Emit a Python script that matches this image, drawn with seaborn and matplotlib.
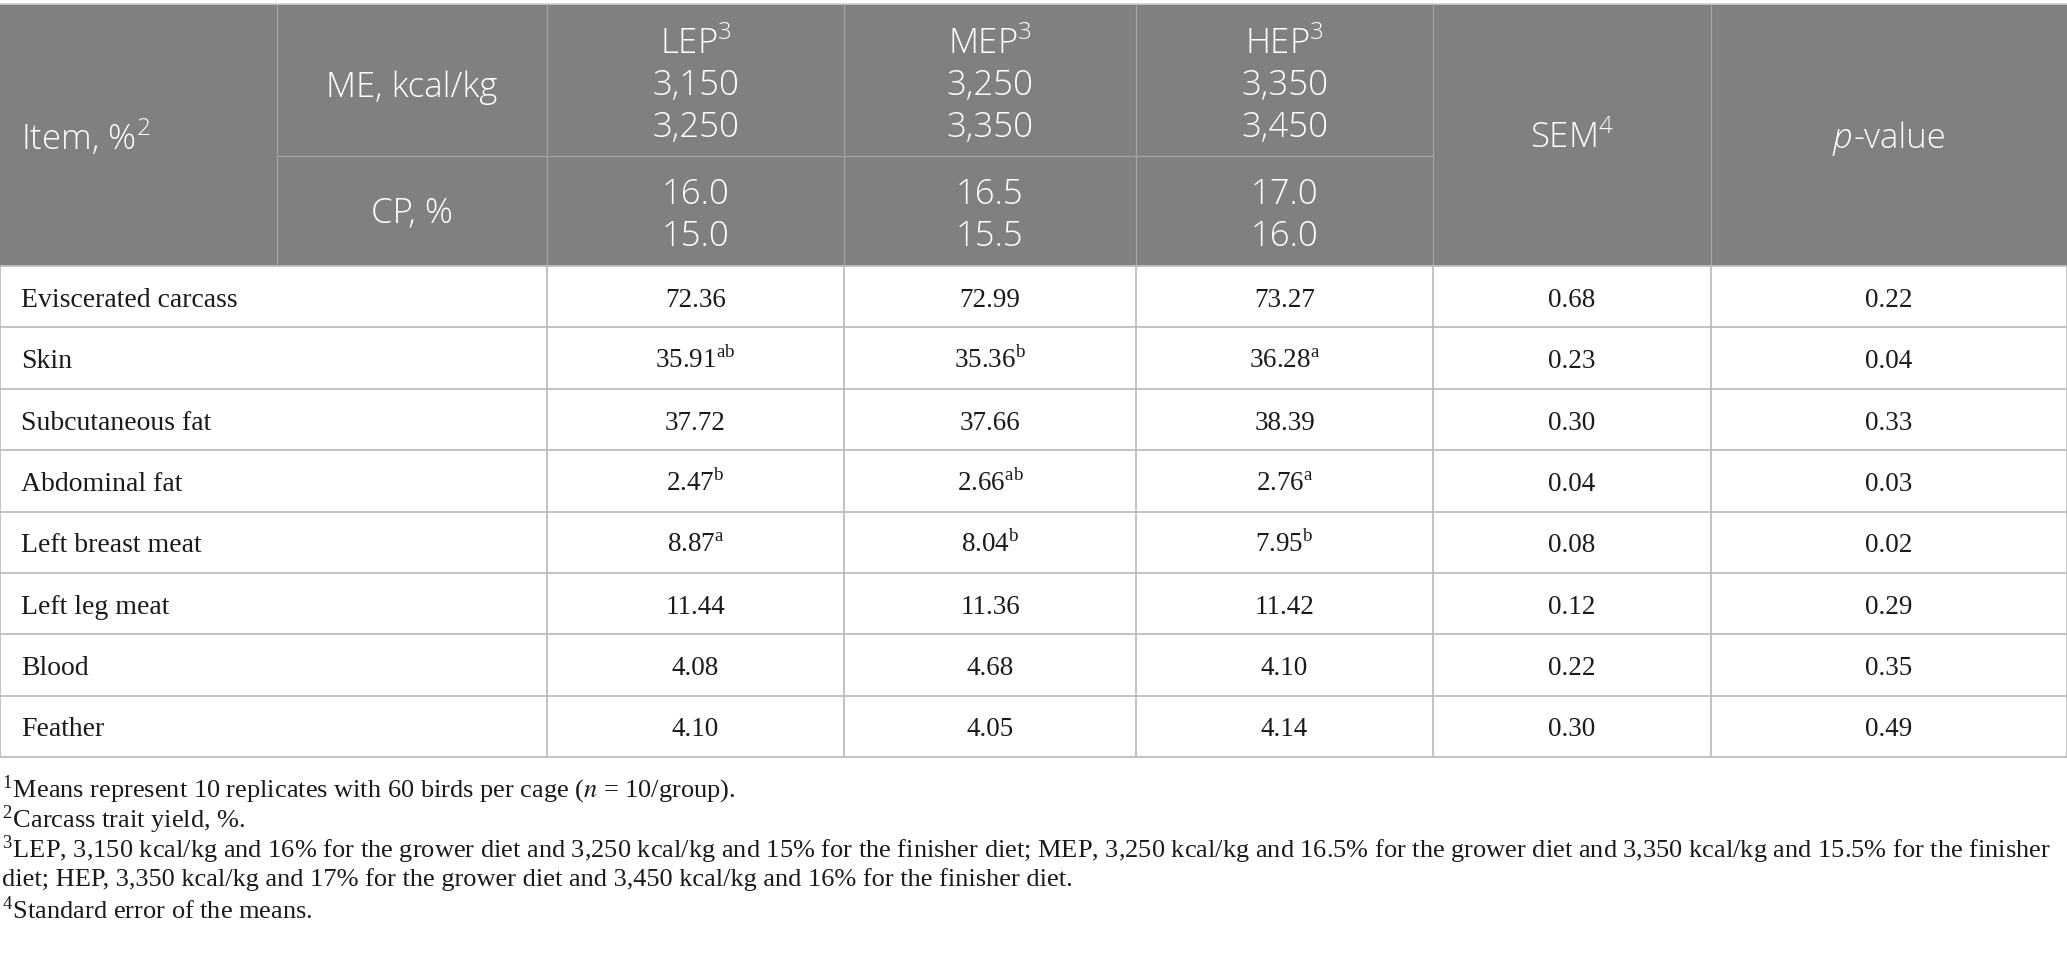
import pandas as pd
import seaborn as sns
import matplotlib.pyplot as plt
from matplotlib.patches import Rectangle

# Tabellendaten
items = ["Eviscerated carcass", "Skin", "Subcutaneous fat", "Abdominal fat",
         "Left breast meat", "Left leg meat", "Blood", "Feather"]
lep_vals = [72.36, 35.91, 37.72, 2.47, 8.87, 11.44, 4.08, 4.10]
lep_sup = ["", "ab", "", "b", "a", "", "", ""]
mep_vals = [72.99, 35.36, 37.66, 2.66, 8.04, 11.36, 4.68, 4.05]
mep_sup = ["", "b", "", "ab", "b", "", "", ""]
hep_vals = [73.27, 36.28, 38.39, 2.76, 7.95, 11.42, 4.10, 4.14]
hep_sup = ["", "a", "", "a", "b", "", "", ""]
sem_vals = [0.68, 0.23, 0.30, 0.04, 0.08, 0.12, 0.22, 0.30]
p_vals = [0.22, 0.04, 0.33, 0.03, 0.02, 0.29, 0.35, 0.49]

groups = ["LEP", "MEP", "HEP"]
me_grower = ["3,150", "3,250", "3,350"]
me_finisher = ["3,250", "3,350", "3,450"]
cp_grower = ["16.0", "16.5", "17.0"]
cp_finisher = ["15.0", "15.5", "16.0"]

footnotes = [
    r"$^{\mathregular{1}}$Means represent 10 replicates with 60 birds per cage ($\mathit{n}$ = 10/group).",
    r"$^{\mathregular{2}}$Carcass trait yield, %.",
    r"$^{\mathregular{3}}$LEP, 3,150 kcal/kg and 16% for the grower diet and 3,250 kcal/kg and 15% for the finisher diet; MEP, 3,250 kcal/kg and 16.5% for the grower diet and 3,350 kcal/kg and 15.5% for the finisher",
    r"diet; HEP, 3,350 kcal/kg and 17% for the grower diet and 3,450 kcal/kg and 16% for the finisher diet.",
    r"$^{\mathregular{4}}$Standard error of the means.",
]

df = pd.DataFrame({"Item": items, "LEP": lep_vals, "LEP_sup": lep_sup,
                   "MEP": mep_vals, "MEP_sup": mep_sup,
                   "HEP": hep_vals, "HEP_sup": hep_sup,
                   "SEM": sem_vals, "p": p_vals})

sns.set_theme(style="white")
plt.rcParams["mathtext.fontset"] = "custom"
plt.rcParams["mathtext.rm"] = "Open Sans"

head_bg = "#808080"
head_line = "#a3a3a3"
body_line = "#bdbdbd"
sans = ["Open Sans", "DejaVu Sans"]
serif = ["Liberation Serif", "DejaVu Serif"]

# Layout (Pixel)
W, H = 2067, 959
col_x = [0, 547, 844, 1136, 1433, 1711, 2067]
sub_x = 277
head_top, head_mid, head_bot = 4, 156, 266
row_h = 61.4

fig = plt.figure(figsize=(W / 100, H / 100), dpi=100)
ax = fig.add_axes([0, 0, 1, 1])
ax.set_xlim(0, W)
ax.set_ylim(H, 0)
ax.axis("off")

# Kopfbereich
ax.add_patch(Rectangle((0, head_top), W, head_bot - head_top, color=head_bg, lw=0))
ax.plot([0, W], [head_top, head_top], color="#cfcfcf", lw=1.2)
ax.vlines([sub_x] + col_x[1:-1], head_top, head_bot, color=head_line, lw=0.9)
ax.plot([sub_x, col_x[4]], [head_mid, head_mid], color=head_line, lw=0.9)

hkw = dict(color="white", fontsize=25, family=sans, fontweight=300, va="baseline")
ax.text(21, 150, r"Item, %$^{\mathregular{2}}$", ha="left", **hkw)
ax.text((sub_x + col_x[1]) / 2, 97, "ME, kcal/kg", ha="center", **hkw)
ax.text((sub_x + col_x[1]) / 2, 223, "CP, %", ha="center", **hkw)
for i, g in enumerate(groups):
    cx = (col_x[i + 1] + col_x[i + 2]) / 2
    ax.text(cx, 54, g + r"$^{\mathregular{3}}$", ha="center", **hkw)
    ax.text(cx, 95, me_grower[i], ha="center", **hkw)
    ax.text(cx, 137, me_finisher[i], ha="center", **hkw)
    ax.text(cx, 204, cp_grower[i], ha="center", **hkw)
    ax.text(cx, 246, cp_finisher[i], ha="center", **hkw)
ax.text((col_x[4] + col_x[5]) / 2, 148, r"SEM$^{\mathregular{4}}$", ha="center", **hkw)

# p-value: kursives p + "-value", gemeinsam zentriert
renderer = fig.canvas.get_renderer()
t_p = ax.text(0, 148, "p", ha="left", fontstyle="italic", **hkw)
t_v = ax.text(0, 148, "-value", ha="left", **hkw)
inv = ax.transData.inverted()
def text_w(t):
    bb = t.get_window_extent(renderer)
    return inv.transform((bb.x1, 0))[0] - inv.transform((bb.x0, 0))[0]
wp, wv = text_w(t_p), text_w(t_v)
x0 = (col_x[5] + col_x[6]) / 2 - (wp + wv) / 2
t_p.set_x(x0)
t_v.set_x(x0 + wp + 1)

# Tabellenkörper
n = len(df)
row_y = [head_bot + k * row_h for k in range(n + 1)]
ax.hlines(row_y, 0, W, color=body_line, lw=1.3)
ax.vlines(col_x, head_bot, row_y[-1], color=body_line, lw=1.3)

bkw = dict(color="#1a1a1a", family=serif, va="baseline")
for r, row in df.iterrows():
    yb = row_y[r] + row_h / 2 + 10
    ax.text(21, yb, row["Item"], ha="left", fontsize=20, **bkw)
    for i, g in enumerate(groups):
        cx = (col_x[i + 1] + col_x[i + 2]) / 2
        s = f"{row[g]:.2f}"
        if row[g + "_sup"]:
            s += r"$^{\mathregular{" + row[g + "_sup"] + "}}$"
        ax.text(cx, yb, s, ha="center", fontsize=19.5, **bkw)
    ax.text((col_x[4] + col_x[5]) / 2, yb, f"{row['SEM']:.2f}", ha="center", fontsize=19.5, **bkw)
    ax.text((col_x[5] + col_x[6]) / 2, yb, f"{row['p']:.2f}", ha="center", fontsize=19.5, **bkw)

# Fussnoten
fkw = dict(color="#1a1a1a", fontsize=19, family=serif, va="center", ha="left")
foot_y = [790, 820, 850, 880, 910]
for k, t in enumerate(footnotes):
    ax.text(2, foot_y[k], t, math_fontfamily="stix", **fkw)

fig.savefig("out.png", dpi=100)
